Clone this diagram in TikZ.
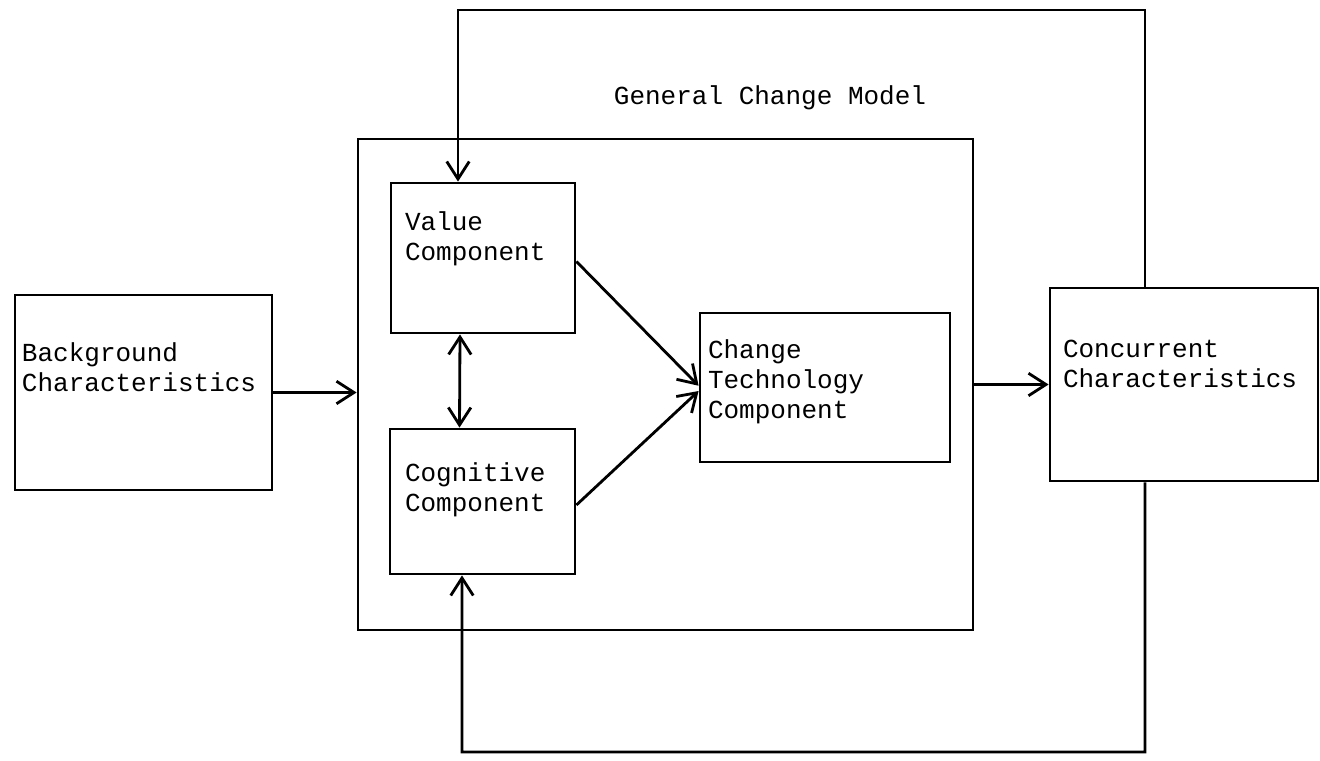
\documentclass[tikz,border=0pt]{standalone}
\usepackage{fontspec}
\setmonofont{Liberation Mono}
\usetikzlibrary{calc, arrows.meta}
\usetikzlibrary{positioning}

\begin{document}
\begin{tikzpicture}[
    line width=1.6pt,
    box/.style={draw, rectangle, inner sep=0pt},
    txt/.style={inner sep=0pt, align=left,
        font=\ttfamily\fontsize{14.8}{17}\selectfont},
    arr/.style={-{Straight Barb[length=3.5mm,width=4.5mm]}},
    dblarr/.style={{Straight Barb[length=3.5mm,width=4.5mm]}-{Straight Barb[length=3.5mm,width=4.5mm]}},
    ]
    % \clip (0,0) rectangle (26.4,15.2);
    \useasboundingbox (0,0) rectangle (26.4,15.2);
    \node[box, minimum width=5.14cm, minimum height=3.9cm]  (Bg)   at (2.87,7.35)  {};
    \node[box, minimum width=12.3cm, minimum height=9.82cm] (GCM)  at (13.31,7.51) {};
    \node[box, minimum width=3.68cm, minimum height=3.0cm]  (Val)  at (9.66,10.04) {};
    \node[box, minimum width=3.7cm,  minimum height=2.9cm]  (Cog)  at (9.65,5.17)  {};
    \node[box, minimum width=5.0cm,  minimum height=2.98cm] (CT)   at (16.5,7.45)  {};
    \node[box, minimum width=5.36cm, minimum height=3.86cm] (Conc) at (23.68,7.51) {};

    \node[txt, below right=0.96cm and 0.14cm of Bg.north west]   (BgTxt)   {Background\\Characteristics};
    \node[txt, below right=0.58cm and 0.28cm of Val.north west]  (ValTxt)  {Value\\Component};
    \node[txt, below right=0.68cm and 0.30cm of Cog.north west]  (CogTxt)  {Cognitive\\Component};
    \node[txt, below right=0.54cm and 0.16cm of CT.north west]   (CTTxt)   {Change\\Technology\\Component};
    \node[txt, below right=1.04cm and 0.26cm of Conc.north west] (ConcTxt) {Concurrent\\Characteristics};
    \node[txt] (GCMTxt) at (15.4,13.24) {General Change Model};

    \coordinate (TopL) at (9.16,15.0);
    \coordinate (BotL) at (9.24,0.16);

    \draw[arr] (Bg.east) -- (Bg.east -| GCM.west);
    \draw[arr] (GCM.east) -- (GCM.east -| Conc.west);
    \draw[arr] ([yshift=-2pt]Val.east) -- ([yshift=1pt]CT.west);
    \draw[arr] ([yshift=-2pt]Cog.east) -- ([yshift=-2pt]CT.west);
    \draw[dblarr] ([xshift=-0.46cm]Val.south) -- ([xshift=-0.46cm]Cog.north);

    \draw[arr] ([xshift=-0.78cm]Conc.north) |- (TopL) -- ([xshift=-0.5cm]Val.north);
    \draw[arr] ([xshift=-0.78cm]Conc.south) |- (BotL) -- ([xshift=-0.41cm]Cog.south);
\end{tikzpicture}
\end{document}
